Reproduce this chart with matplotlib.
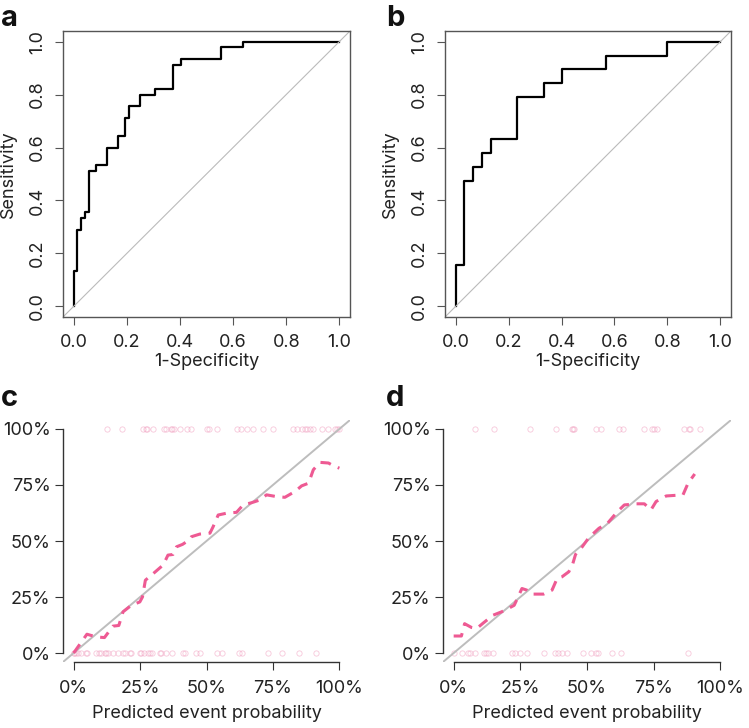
import matplotlib
matplotlib.use("Agg")
import matplotlib.pyplot as plt

plt.rcParams['font.family'] = ['Inter', 'DejaVu Sans']

# ROC curves (1-specificity, sensitivity) corner points
fpr_a = [0, 0, 0.014, 0.028, 0.042, 0.056, 0.083, 0.125, 0.167, 0.194, 0.208, 0.25, 0.306, 0.375, 0.403, 0.556, 0.639, 1.0]
sens_a = [0, 0.133, 0.289, 0.333, 0.356, 0.511, 0.533, 0.6, 0.644, 0.711, 0.756, 0.8, 0.822, 0.911, 0.933, 0.978, 1.0, 1.0]
fpr_b = [0, 0, 0.033, 0.067, 0.1, 0.133, 0.233, 0.333, 0.4, 0.567, 0.8, 1.0]
sens_b = [0, 0.158, 0.474, 0.526, 0.579, 0.632, 0.789, 0.842, 0.895, 0.947, 1.0, 1.0]

# calibration curves
cal_c_x = [0, 0.05, 0.085, 0.116, 0.148, 0.17, 0.186, 0.217, 0.249, 0.259, 0.27, 0.3, 0.337, 0.355, 0.374, 0.387,
           0.41, 0.434, 0.443, 0.475, 0.513, 0.525, 0.544, 0.575, 0.613, 0.638, 0.67, 0.701, 0.726, 0.764, 0.795,
           0.833, 0.858, 0.884, 0.902, 0.927, 0.959, 0.977, 1.0]
cal_c_y = [0, 0.084, 0.072, 0.069, 0.12, 0.123, 0.184, 0.213, 0.228, 0.25, 0.325, 0.355, 0.393, 0.437, 0.44, 0.474,
           0.485, 0.504, 0.519, 0.531, 0.535, 0.564, 0.616, 0.624, 0.628, 0.661, 0.671, 0.683, 0.706, 0.698, 0.695,
           0.721, 0.746, 0.758, 0.818, 0.851, 0.848, 0.836, 0.825]
cal_d_x = [0, 0.029, 0.041, 0.067, 0.086, 0.111, 0.148, 0.18, 0.205, 0.227, 0.256, 0.274, 0.293, 0.337, 0.369, 0.388,
           0.406, 0.432, 0.447, 0.457, 0.482, 0.507, 0.545, 0.577, 0.614, 0.64, 0.684, 0.715, 0.74, 0.759, 0.797,
           0.86, 0.879, 0.904]
cal_d_y = [0.076, 0.076, 0.131, 0.114, 0.109, 0.134, 0.169, 0.184, 0.199, 0.213, 0.288, 0.281, 0.263, 0.263, 0.281,
           0.333, 0.34, 0.363, 0.4, 0.44, 0.474, 0.515, 0.557, 0.579, 0.631, 0.661, 0.666, 0.666, 0.639, 0.676, 0.701,
           0.706, 0.758, 0.799]

# observed outcomes (rug of predicted probabilities)
pos_c = [0.127, 0.183, 0.261, 0.271, 0.276, 0.299, 0.34, 0.349, 0.366, 0.371, 0.377, 0.399, 0.425, 0.443, 0.5,
         0.509, 0.538, 0.616, 0.628, 0.651, 0.676, 0.714, 0.749, 0.824, 0.839, 0.858, 0.871, 0.879, 0.889, 0.902,
         0.933, 0.959, 0.984, 0.99, 1.0]
neg_c = [0.0, 0.003, 0.008, 0.016, 0.029, 0.045, 0.05, 0.085, 0.095, 0.102, 0.117, 0.123, 0.129, 0.148, 0.167,
         0.186, 0.192, 0.214, 0.217, 0.249, 0.255, 0.264, 0.28, 0.289, 0.296, 0.324, 0.33, 0.349, 0.372, 0.41,
         0.418, 0.462, 0.475, 0.54, 0.557, 0.623, 0.632, 0.732, 0.783, 0.848, 0.912]
pos_d = [0.079, 0.151, 0.286, 0.383, 0.442, 0.447, 0.452, 0.535, 0.554, 0.621, 0.636, 0.715, 0.744, 0.753, 0.762,
         0.863, 0.883, 0.888, 0.923]
neg_d = [0.0, 0.033, 0.054, 0.06, 0.079, 0.113, 0.123, 0.13, 0.149, 0.218, 0.23, 0.249, 0.275, 0.338, 0.379, 0.39,
         0.406, 0.426, 0.484, 0.514, 0.533, 0.54, 0.593, 0.627, 0.879]

W, H = 749, 728
fig = plt.figure(figsize=(W / 100, H / 100), dpi=100)

def px_axes(l, t, r, b):
    return fig.add_axes([l / W, 1 - b / H, (r - l) / W, (b - t) / H])

FS = 13
pink = '#EE5A93'
dot = '#F3A9C6'

def roc(ax, fpr, sens):
    ax.plot(fpr, sens, drawstyle='steps-post', color='black', lw=1.6)
    ax.axline((0, 0), (1, 1), color='#BBBBBB', lw=0.8)
    ax.set_xlim(-0.04, 1.04)
    ax.set_ylim(-0.04, 1.04)
    ticks = [0, 0.2, 0.4, 0.6, 0.8, 1.0]
    ax.set_xticks(ticks, ['%.1f' % t for t in ticks])
    ax.set_yticks(ticks, ['%.1f' % t for t in ticks])
    ax.tick_params(labelsize=FS, length=6, width=0.8, color='#555555', pad=6, labelcolor='#222222')
    for lab in ax.get_yticklabels():
        lab.set_rotation(90)
        lab.set_va('center')
    for s in ax.spines.values():
        s.set_color('#555555')
        s.set_linewidth(1.0)
    ax.set_xlabel('1-Specificity', fontsize=FS, labelpad=2, color='#222222')
    ax.set_ylabel('Sensitivity', fontsize=FS, labelpad=9, color='#222222')

def calib(ax, x, y, pos, neg):
    ax.plot(pos, [1] * len(pos), 'o', mfc='none', mec=dot, ms=3.8, mew=0.6, alpha=0.65)
    ax.plot(neg, [0] * len(neg), 'o', mfc='none', mec=dot, ms=3.8, mew=0.6, alpha=0.65)
    ax.axline((0, 0), (1, 1), color='#BDBDBD', lw=1.4)
    ax.plot(x, y, color=pink, lw=2.2, dashes=(3.5, 2.5))
    ax.set_xlim(-0.04, 1.04)
    ax.set_ylim(-0.04, 1.04)
    ticks = [0, 0.25, 0.5, 0.75, 1.0]
    labels = ['0%', '25%', '50%', '75%', '100%']
    ax.set_xticks(ticks, labels)
    ax.set_yticks(ticks, labels)
    ax.tick_params(labelsize=FS, length=6, width=0.8, color='#333333', pad=7, labelcolor='#222222')
    ax.tick_params(axis='y', pad=3)
    ax.spines['top'].set_visible(False)
    ax.spines['right'].set_visible(False)
    for k in ['left', 'bottom']:
        ax.spines[k].set_bounds(0, 1)
        ax.spines[k].set_color('#333333')
        ax.spines[k].set_linewidth(1.0)
    ax.set_xlabel('Predicted event probability', fontsize=FS, labelpad=6, color='#222222')

ax_a = px_axes(63, 31, 350, 317)
roc(ax_a, fpr_a, sens_a)
ax_b = px_axes(445, 31, 731, 317)
roc(ax_b, fpr_b, sens_b)
ax_c = px_axes(63, 420, 350, 662)
calib(ax_c, cal_c_x, cal_c_y, pos_c, neg_c)
ax_d = px_axes(443, 420, 731, 662)
calib(ax_d, cal_d_x, cal_d_y, pos_d, neg_d)

for lab, x, y in [('a', 1, 5), ('b', 386, 5), ('c', 1, 385), ('d', 386, 385)]:
    fig.text(x / W, 1 - y / H, lab, fontsize=21, fontweight='bold', va='top', ha='left', color='#111111')

fig.savefig('out.png', dpi=100)
